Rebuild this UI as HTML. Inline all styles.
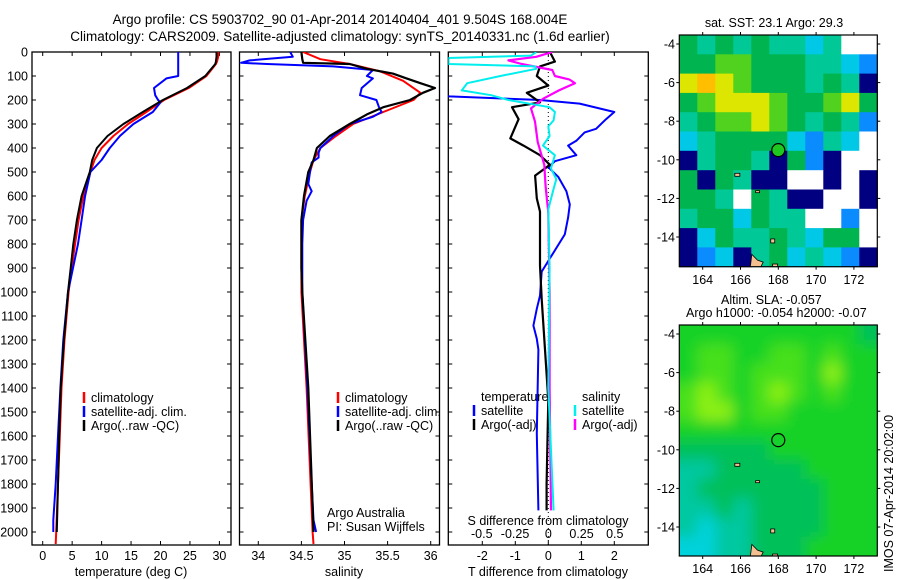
<!DOCTYPE html>
<html><head><meta charset="utf-8">
<style>
html,body{margin:0;padding:0;background:#fff;}
svg{display:block;font-family:"Liberation Sans",sans-serif;font-size:12.5px;}
</style></head>
<body>
<svg id="fig" width="900" height="580" viewBox="0 0 900 580" xmlns="http://www.w3.org/2000/svg">
<text x="340" y="24" text-anchor="middle" font-size="13.5">Argo profile: CS 5903702_90 01-Apr-2014 20140404_401 9.504S 168.004E</text>
<text x="340" y="41" text-anchor="middle" font-size="13.5">Climatology: CARS2009. Satellite-adjusted climatology: synTS_20140331.nc (1.6d earlier)</text>
<g id="p1"></g>
<g id="p2"></g>
<g id="p3"></g>
<g id="m1"></g>
<g id="m2"></g>
<text transform="translate(893,572) rotate(-90)" font-size="12.5">IMOS 07-Apr-2014 20:02:00</text>
</svg>
<script>
// ---- temperature profiles (depth m, deg C)
const tArgoDepth=[0,20,40,50,100,150,200,250,300,350,400,450,500,600,700,800,900,1000,1200,1400,1600,1800,2000];
const tArgo=[29.5,29.5,29.4,29.3,27.6,24.5,20.4,17,13.7,11,9.2,8.4,8.0,6.6,5.8,5.2,4.75,4.3,3.6,3.05,2.8,2.6,2.4];
const tClimDepth=[0,20,40,50,100,150,200,250,300,350,400,450,500,600,700,800,900,1000,1200,1400,1600,1800,2000,2050];
const tClim=[29.8,29.8,29.6,29.4,27.8,24.8,20.6,17.6,14.5,12,10,8.8,8.1,6.9,6.1,5.5,4.9,4.4,3.7,3.2,2.9,2.6,2.3,2.2];
const tSatDepth=[0,100,110,150,180,200,210,250,300,350,400,450,500,600,700,800,1000,1200,1400,1600,1800,1950,2000];
const tSat=[23,23,21,18.9,19.1,19.6,20,18.7,15.4,13.1,11.4,10,8.1,7.2,6.6,6.0,4.3,3.5,3.0,2.6,2.2,1.8,1.8];
// ---- salinity profiles
const sArgoDepth=[0,30,45,50,70,90,110,130,150,170,200,230,260,300,350,400,450,500,600,700,900,1000,1400,2000];
const sArgo=[34.5,34.51,34.52,35.06,35.26,35.56,35.72,35.88,36.05,35.91,35.76,35.45,35.26,35.06,34.83,34.68,34.64,34.58,34.53,34.5,34.5,34.51,34.58,34.64];
const sClimDepth=[0,30,50,80,120,170,200,250,300,350,400,450,500,600,700,1000,1400,2000,2050];
const sClim=[34.52,34.72,35.06,35.41,35.68,35.88,35.8,35.45,35.1,34.9,34.72,34.64,34.6,34.54,34.5,34.5,34.56,34.63,34.64];
const sSatDepth=[0,20,35,45,50,60,75,100,110,150,180,200,230,250,270,300,350,400,420,440,460,500,550,580,620,700,800,1000,1400,1800,1950,2000];
const sSat=[34.37,34.4,33.9,33.8,34.1,34.87,35.33,35.26,35.33,35.2,35.18,35.37,35.4,35.43,35.33,35.06,34.87,34.72,34.7,34.7,34.62,34.6,34.58,34.62,34.56,34.52,34.51,34.51,34.57,34.62,34.64,34.67];
// ---- differences
const dTArgoDepth=[0,40,60,100,140,170,210,230,280,360,390,430,470,515,610,665,890,1030,1240,1450,1800,1910];
const dTArgo=[0.05,0.2,-0.25,-0.35,0,-0.65,-0.25,-1.1,-0.9,-1.15,-0.75,-0.25,0.05,-0.4,-0.35,-0.25,-0.25,-0.2,-0.1,0,-0.05,-0.05];
const dTSatDepth=[170,185,200,215,250,280,320,335,370,390,430,455,480,520,580,635,690,760,860,915,1015,1070,1140,1195,1240,1590,1910];
const dTSat=[-3.5,-3,-0.25,0.95,2.0,1.75,1.45,1.1,0.85,0.6,0.85,0.2,0,0.3,0.55,0.65,0.6,0.5,0.05,-0.2,-0.25,-0.35,-0.45,-0.35,-0.3,-0.35,-0.3];
const dSSatDepth=[0,15,25,50,60,70,100,130,160,180,200,230,250,285,310,350,390,430,485,530,570,655,900,1400,1910];
const dSSat=[-0.09,-0.13,-0.75,-0.75,-0.1,-0.09,-0.36,-0.61,-0.65,-0.43,-0.3,0.01,0.05,0.04,0,0.01,-0.04,0.05,0.02,0.06,0.04,0,0.01,0,0.04];
const dSArgoDepth=[0,20,35,50,75,100,115,130,160,195,235,290,375,470,560,670,1000,1400,1910];
const dSArgo=[0.03,-0.09,-0.3,-0.2,0.03,0.05,0.16,0.2,0.08,-0.04,-0.13,-0.1,-0.08,-0.03,-0.02,0,0.01,0.01,0.02];
// ---- ticks
const depthTicks=[0,100,200,300,400,500,600,700,800,900,1000,1100,1200,1300,1400,1500,1600,1700,1800,1900,2000];
const tTicks=[0,5,10,15,20,25,30];
const sTicks=[34,34.5,35,35.5,36];
const sTickLabels=["34","34.5","35","35.5","36"];
const dTTicks=[-2,-1,0,1,2];
const dSTicks=[-0.5,-0.25,0,0.25,0.5];
const dSTickLabels=["-0.5","-0.25","0","0.25","0.5"];
const lonTicks=[164,166,168,170,172];
const latTicks=[-4,-6,-8,-10,-12,-14];
// SST map codes (0 white,1 navy,2 blue,3 cyan,4 teal,5 green,6 lime,7 yellow,8 orange)
const sstRows=[
[5,4,5,4,5,4,4,3,4,0,0],[5,5,6,6,5,5,5,4,4,3,2],[7,8,7,6,5,5,5,4,5,4,1],[5,6,7,7,7,6,5,5,6,7,5],
[4,5,6,6,7,6,5,4,5,4,2],[3,4,5,5,5,5,3,2,4,3,0],[1,4,5,5,4,1,5,2,1,0,0],[5,1,5,4,1,1,0,0,1,0,1],
[5,5,4,0,5,4,1,1,0,0,1],[4,5,5,3,5,4,4,0,0,2,0],[1,3,5,4,4,5,4,3,5,5,0],[1,2,3,1,4,5,3,4,3,2,1]];
// SLA map levels (-2..3)
const slaRows=[
[1,1,1,1,1,1,1,1,1,1,0],[1,2,2,1,1,2,2,1,2,1,1],[1,2,2,1,2,2,2,1,3,1,1],[2,3,2,1,2,3,2,1,2,1,1],
[2,3,3,1,2,2,1,1,1,1,1],[1,1,1,1,1,1,1,1,1,1,1],[0,0,0,0,0,1,1,1,1,1,1],[-1,-1,0,0,0,0,0,1,1,1,1],
[-1,0,0,0,0,0,0,0,1,1,1],[-1,-1,0,-1,0,0,0,0,1,1,1],[-1,-2,-1,-1,0,0,0,0,1,1,1],[-2,-2,-1,-1,0,0,0,1,1,1,1]];

const NS="http://www.w3.org/2000/svg";
function mk(parent,tag,attrs,txt){const e=document.createElementNS(NS,tag);for(const k in attrs)e.setAttribute(k,attrs[k]);if(txt!==undefined)e.textContent=txt;parent.appendChild(e);return e;}
const Y0=52,YB=545;
const yD=d=>Y0+d*0.24;

function panel(g,x0,x1,clipId){
  const defs=mk(g,'defs',{});
  const cp=mk(defs,'clipPath',{id:clipId});
  mk(cp,'rect',{x:x0,y:Y0,width:x1-x0,height:YB-Y0});
  const box=mk(g,'rect',{x:x0,y:Y0,width:x1-x0,height:YB-Y0,fill:'none',stroke:'#000','stroke-width':1.3});
  
  
  depthTicks.forEach(d=>{
    mk(g,'line',{x1:x0,x2:x0+4,y1:yD(d),y2:yD(d),stroke:'#000'});
    mk(g,'line',{x1:x1-4,x2:x1,y1:yD(d),y2:yD(d),stroke:'#000'});
  });
}
function xTicks(g,vals,labels,xf,ly,top){
  vals.forEach((v,i)=>{
    const x=xf(v);
    mk(g,'line',{x1:x,x2:x,y1:YB,y2:YB-4,stroke:'#000'});
    if(top)mk(g,'line',{x1:x,x2:x,y1:Y0,y2:Y0+4,stroke:'#000'});
    const t=mk(g,'text',{x:x,y:ly,'text-anchor':'middle'},labels[i]);
    
    
  });
}
function line(g,ds,vs,xf,col,w,clip,name){
  const p=ds.map((d,i)=>(i?'L':'M')+xf(vs[i]).toFixed(1)+','+yD(d).toFixed(1)).join('');
  const e=mk(g,'path',{d:p,fill:'none',stroke:col,'stroke-width':w,'clip-path':'url(#'+clip+')','stroke-linejoin':'round'});
  
  
}
function legend(g,x,y,col,label){
  mk(g,'line',{x1:x,x2:x,y1:y-10,y2:y+1,stroke:col,'stroke-width':2.5});
  const t=mk(g,'text',{x:x+7,y:y},label);
  
  
}

// Panel 1
const p1=document.getElementById('p1');
const xT=v=>42.7+v*5.89;
panel(p1,32,231,'c1');
depthTicks.forEach(d=>{const t=mk(p1,'text',{x:28,y:yD(d)+4.5,'text-anchor':'end'},String(d));
  
  });
xTicks(p1,tTicks,tTicks.map(String),xT,560,true);
const xt1=mk(p1,'text',{x:131,y:576,'text-anchor':'middle'},'temperature (deg C)');


line(p1,tClimDepth,tClim,xT,'#f00',2,'c1','temp-climatology-line');
line(p1,tSatDepth,tSat,xT,'#00f',2,'c1','temp-satellite-line');
line(p1,tArgoDepth,tArgo,xT,'#000',2,'c1','temp-argo-line');
legend(p1,84,402,'#f00','climatology');
legend(p1,84,416,'#00f','satellite-adj. clim.');
legend(p1,84,430,'#000','Argo(..raw -QC)');

// Panel 2
const p2=document.getElementById('p2');
const xS=v=>258.3+(v-34)*86.2;
panel(p2,239.5,439.5,'c2');
xTicks(p2,sTicks,sTickLabels,xS,560,true);
const xt2=mk(p2,'text',{x:344,y:576,'text-anchor':'middle'},'salinity');


line(p2,sClimDepth,sClim,xS,'#f00',2,'c2','sal-climatology-line');
line(p2,sSatDepth,sSat,xS,'#00f',2,'c2','sal-satellite-line');
line(p2,sArgoDepth,sArgo,xS,'#000',2.2,'c2','sal-argo-line');
legend(p2,338,402,'#f00','climatology');
legend(p2,338,416,'#00f','satellite-adj. clim.');
legend(p2,338,430,'#000','Argo(..raw -QC)');
const aa=mk(p2,'text',{x:327,y:517},'Argo Australia');
const pi=mk(p2,'text',{x:327,y:531},'PI: Susan Wijffels');

// Panel 3
const p3=document.getElementById('p3');
const xdT=v=>548.3+v*33;
const xdS=v=>548.3+v*133;
panel(p3,448.3,648.3,'c3');
xTicks(p3,dTTicks,dTTicks.map(String),xdT,560,true);
mk(p3,'line',{x1:548.3,x2:548.3,y1:Y0,y2:YB,stroke:'#000','stroke-dasharray':'1,3'});
line(p3,dTSatDepth,dTSat,xdT,'#00f',2,'c3','dt-satellite-line');
line(p3,dTArgoDepth,dTArgo,xdT,'#000',2.2,'c3','dt-argo-line');
line(p3,dSArgoDepth,dSArgo,xdS,'#f0f',2.2,'c3','ds-argo-line');
line(p3,dSSatDepth,dSSat,xdS,'#0ee',2,'c3','ds-satellite-line');
dSTicks.forEach((v,i)=>{const t=mk(p3,'text',{x:xdS(v),y:538,'text-anchor':'middle'},dSTickLabels[i]);
  
  });
const sdt=mk(p3,'text',{x:548,y:525,'text-anchor':'middle'},'S difference from climatology');
const tdt=mk(p3,'text',{x:548,y:576,'text-anchor':'middle'},'T difference from climatology');
const lt=mk(p3,'text',{x:481,y:401},'temperature');
const ls=mk(p3,'text',{x:582,y:401},'salinity');
legend(p3,474,415,'#00f','satellite');
legend(p3,474,429,'#000','Argo(-adj)');
legend(p3,575,415,'#0ee','satellite');
legend(p3,575,429,'#f0f','Argo(-adj)');

// Maps
const lonX=l=>702.7+(l-164)*18.9;
function mapFrame(g,top,bot,lat4y,clipId){
  const latY=v=>lat4y+(-4-v)*19.3;
  const defs=mk(g,'defs',{});
  const cp=mk(defs,'clipPath',{id:clipId});
  mk(cp,'rect',{x:679.3,y:top,width:198,height:bot-top});
  return {latY,defs};
}
function mapAxes(g,top,bot,latY,labelY){
  const f=mk(g,'rect',{x:679.3,y:top,width:198,height:bot-top,fill:'none',stroke:'#000','stroke-width':1.2});
  
  
  lonTicks.forEach(l=>{const x=lonX(l);
    mk(g,'line',{x1:x,x2:x,y1:top-3,y2:top,stroke:'#000'});
    mk(g,'line',{x1:x,x2:x,y1:bot,y2:bot+3,stroke:'#000'});
    const t=mk(g,'text',{x:x,y:labelY,'text-anchor':'middle'},String(l));
    
    });
  latTicks.forEach(v=>{const y=latY(v);
    mk(g,'line',{x1:676.3,x2:679.3,y1:y,y2:y,stroke:'#000'});
    mk(g,'line',{x1:877.3,x2:880.3,y1:y,y2:y,stroke:'#000'});
    const t=mk(g,'text',{x:675,y:y+4.5,'text-anchor':'end'},String(v));
    
    });
}
function coast(g,latY,clip){
  const c=mk(g,'g',{'clip-path':'url(#'+clip+')',fill:'#f5c090',stroke:'#000','stroke-width':0.8});
  mk(c,'path',{d:`M${lonX(166.5)},${latY(-15.7)} L${lonX(166.6)},${latY(-14.9)} L${lonX(166.9)},${latY(-15.2)} L${lonX(167.2)},${latY(-15.3)} L${lonX(167.0)},${latY(-15.7)}Z`});
  mk(c,'rect',{x:lonX(165.7),y:latY(-10.7),width:5,height:3});
  mk(c,'rect',{x:lonX(167.6),y:latY(-14.1),width:4,height:4});
  mk(c,'rect',{x:lonX(167.7),y:latY(-15.4),width:5,height:4});
  mk(c,'rect',{x:lonX(166.8),y:latY(-11.6),width:4,height:2});
}
// SST map
const m1=document.getElementById('m1');
const sstPal=['#ffffff','#000080','#0a8cff','#00c8e6','#00c896','#00b450','#50d21e','#dce600','#ffbe00'];
let fr=mapFrame(m1,35,266.7,44,'cm1');
const cellW=198/11, cellH=(266.7-35)/12;
sstRows.forEach((row,r)=>row.forEach((c,k)=>{
  const e=mk(m1,'rect',{x:(679.3+k*cellW).toFixed(1),y:(35+r*cellH).toFixed(1),width:(cellW+0.5).toFixed(1),height:(cellH+0.5).toFixed(1),fill:sstPal[c]});
  
  
}));
coast(m1,fr.latY,'cm1');
const c1=mk(m1,'circle',{cx:lonX(168.0),cy:fr.latY(-9.5),r:6.5,fill:'#1ec81e',stroke:'#000','stroke-width':1.2});


mapAxes(m1,35,266.7,fr.latY,284);
const st=mk(m1,'text',{x:774,y:27,'text-anchor':'middle'},'sat. SST: 23.1 Argo: 29.3');

// SLA map
const m2=document.getElementById('m2');
const slaPal={'-2':'#00d2dc','-1':'#00c8a0','0':'#00c05a','1':'#14d228','2':'#46e01e','3':'#8cf014'};
fr=mapFrame(m2,325,556,334,'cm2');
const flt=mk(fr.defs,'filter',{id:'blur',x:'-20%',y:'-20%',width:'140%',height:'140%'});
mk(flt,'feGaussianBlur',{stdDeviation:7});
const cellH2=(556-325)/12;
const sg=mk(m2,'g',{'clip-path':'url(#cm2)'});
const bg=mk(sg,'g',{filter:'url(#blur)'});
slaRows.forEach((row,r)=>row.forEach((c,k)=>{
  let x=679.3+k*cellW, y=325+r*cellH2, w=cellW+0.5, h=cellH2+0.5;
  if(k===0){x-=20;w+=20;} if(k===10){w+=20;} if(r===0){y-=20;h+=20;} if(r===11){h+=20;}
  const e=mk(bg,'rect',{x:x.toFixed(1),y:y.toFixed(1),width:w.toFixed(1),height:h.toFixed(1),fill:slaPal[String(c)]});
  
  
}));
coast(m2,fr.latY,'cm2');
const c2=mk(m2,'circle',{cx:lonX(168.0),cy:fr.latY(-9.5),r:6.5,fill:'none',stroke:'#000','stroke-width':1.2});


mapAxes(m2,325,556,fr.latY,573);
const a1=mk(m2,'text',{x:721,y:304},'Altim. SLA: -0.057');
const a2=mk(m2,'text',{x:686,y:317},'Argo h1000: -0.054 h2000: -0.07');
</script>
</body></html>
